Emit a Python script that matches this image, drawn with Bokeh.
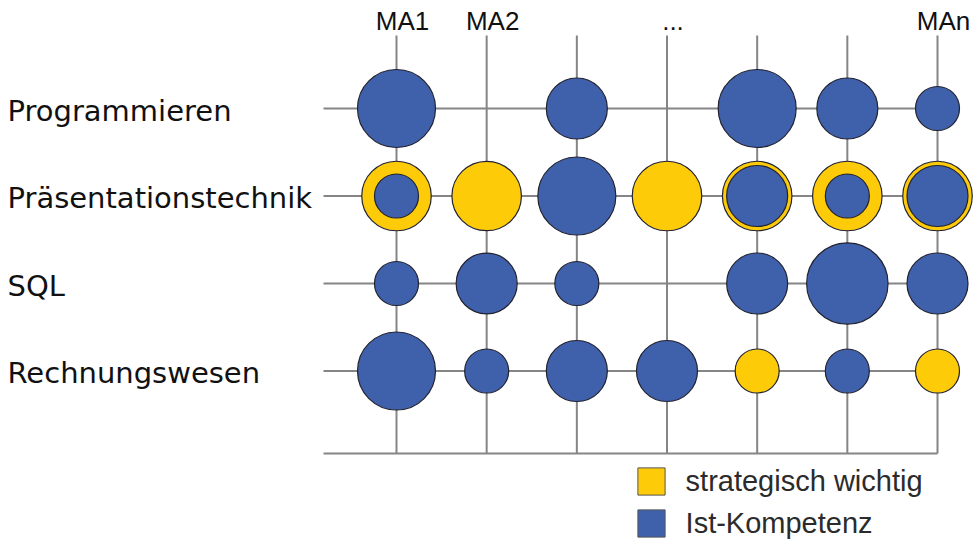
from bokeh.plotting import figure
from bokeh.models import Range1d, ColumnDataSource, Legend, LegendItem
from bokeh.core.properties import value
from bokeh.embed import file_html
from bokeh.resources import INLINE

# ---------------- data ----------------
skills = ["Programmieren", "Präsentationstechnik", "SQL", "Rechnungswesen"]
employees = ["MA1", "MA2", "MA3", "MA4", "MA5", "MA6", "MAn"]
col_labels = ["MA1", "MA2", "", "...", "", "", "MAn"]

# Ist-Kompetenz (level, 0 = keine)
ist_programmieren = [3, 0, 2, 0, 3, 2, 1]
ist_praesentation = [1, 0, 3, 0, 2, 1, 2]
ist_sql = [1, 2, 1, 0, 2, 3.2, 2]
ist_rechnungswesen = [3, 1, 2, 2, 0, 1, 0]

# strategisch wichtig (Soll-Level, 0 = nicht strategisch)
strat_programmieren = [0, 0, 0, 0, 0, 0, 0]
strat_praesentation = [2.5, 2.5, 2.5, 2.5, 2.5, 2.5, 2.5]
strat_sql = [0, 0, 0, 0, 0, 0, 0]
strat_rechnungswesen = [0, 0, 0, 0, 1, 0, 1]

ist_rows = [ist_programmieren, ist_praesentation, ist_sql, ist_rechnungswesen]
strat_rows = [strat_programmieren, strat_praesentation, strat_sql, strat_rechnungswesen]

legend_labels = ["strategisch wichtig", "Ist-Kompetenz"]

# ---------------- layout / style ----------------
W, H = 974, 539
PX = (937 - 396) / 6.0     # pixels per column unit
PY = 87.5                  # pixels per row unit
n_rows = len(skills)
n_cols = len(employees)
col_x = list(range(1, n_cols + 1))
row_y = [n_rows - i for i in range(n_rows)]   # top row = n_rows

x0 = 1 - 396 / PX
x1 = x0 + W / PX
y1 = n_rows + 108 / PY
y0 = y1 - H / PY

def xd(px):
    return x0 + px / PX

def yd(px):
    return y1 - px / PY

BLUE = "#3F61AB"
YELLOW = "#FDCB08"
GRID = "#858585"
OUTLINE = "#222230"

def diam(level):
    return 27 + 17 * level

p = figure(width=W, height=H, x_range=Range1d(x0, x1), y_range=Range1d(y0, y1),
           output_backend="svg", toolbar_location=None, min_border=0,
           x_axis_location=None, y_axis_location=None)
p.grid.visible = False
p.outline_line_color = None
p.background_fill_color = "white"
p.border_fill_color = "white"

# grid lines
top_y = yd(35)
bot_y = yd(453)
left_x = xd(323)
p.segment(x0=col_x, y0=[bot_y] * n_cols, x1=col_x, y1=[top_y] * n_cols,
          line_color=GRID, line_width=2)
p.segment(x0=[left_x] * n_rows, y0=row_y, x1=[col_x[-1]] * n_rows, y1=row_y,
          line_color=GRID, line_width=2)
p.segment(x0=[left_x], y0=[bot_y], x1=[col_x[-1]], y1=[bot_y],
          line_color=GRID, line_width=2)

# bubbles
sx, sy, ss = [], [], []
bx, by, bs = [], [], []
for r, yy in enumerate(row_y):
    for c, xx in enumerate(col_x):
        if strat_rows[r][c] > 0:
            sx.append(xx); sy.append(yy); ss.append(diam(strat_rows[r][c]))
        if ist_rows[r][c] > 0:
            bx.append(xx); by.append(yy); bs.append(diam(ist_rows[r][c]))

p.scatter(x="x", y="y", size="s", source=ColumnDataSource(dict(x=sx, y=sy, s=ss)),
          marker="circle", fill_color=YELLOW, line_color=OUTLINE, line_width=1.2)
p.scatter(x="x", y="y", size="s", source=ColumnDataSource(dict(x=bx, y=by, s=bs)),
          marker="circle", fill_color=BLUE, line_color=OUTLINE, line_width=1.2)

# row labels
p.text(x=[xd(7)] * n_rows, y=row_y, text=skills, text_font=value("DejaVu Sans"),
       text_font_size="29px", text_color="#111111", text_align="left",
       text_baseline="alphabetic", y_offset=2)

# column labels
p.text(x=col_x, y=[yd(20)] * n_cols, text=col_labels, text_font=value("Liberation Sans"),
       text_font_size="26px", text_color="#111111", text_align="center",
       text_baseline="alphabetic", x_offset=6)

# legend (proxy glyphs, drawn outside the visible area)
nan = float("nan")
r_y = p.rect(x=[nan], y=[nan], width=1, height=1, fill_color=YELLOW, line_color="#555555")
r_b = p.rect(x=[nan], y=[nan], width=1, height=1, fill_color=BLUE, line_color="#555555")
legend = Legend(items=[LegendItem(label=legend_labels[0], renderers=[r_y]),
                       LegendItem(label=legend_labels[1], renderers=[r_b])],
                location=(633.6, -1), padding=0, margin=0, spacing=8,
                glyph_width=34, glyph_height=34, label_height=34, label_standoff=18,
                label_text_font="Liberation Sans", label_text_font_size="29px",
                label_text_color="#2b2b2b", border_line_alpha=0, background_fill_alpha=0)
p.add_layout(legend)

open("out.html", "w").write(file_html(p, INLINE))
